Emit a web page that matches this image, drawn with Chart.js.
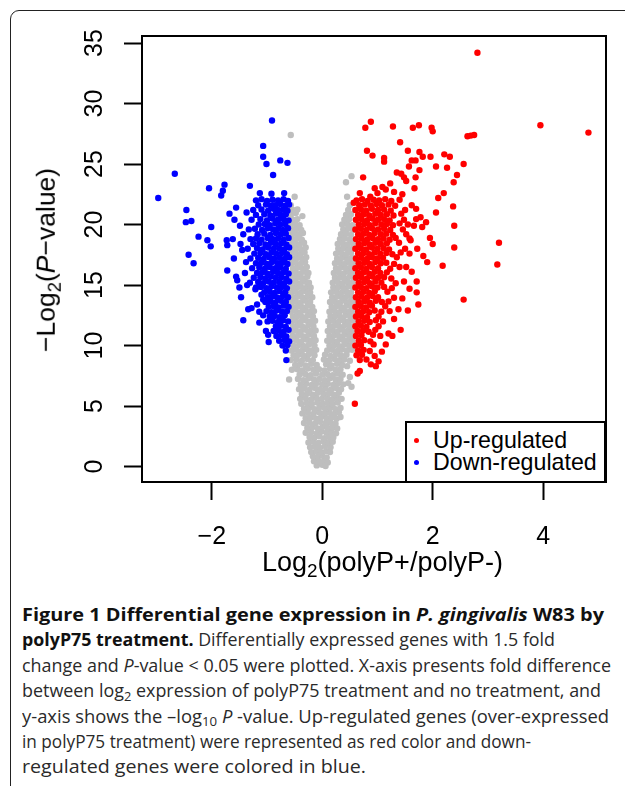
<!DOCTYPE html>
<html><head><meta charset="utf-8">
<script src="https://cdn.jsdelivr.net/npm/chart.js@4/dist/chart.umd.min.js"></script>
<style>
html,body{margin:0;padding:0;background:#fff;width:625px;height:786px;overflow:hidden;}
#frame{position:absolute;left:10px;top:10px;width:720px;height:900px;border:1.5px solid #222;border-radius:9px;box-sizing:border-box;}
#wrap{position:absolute;left:0;top:0;width:625px;height:590px;}
.t{position:absolute;font-family:"Liberation Sans",Arial,sans-serif;color:#000;white-space:nowrap;}
.t sub{font-size:0.7em;vertical-align:baseline;position:relative;top:0.32em;line-height:0;}
#legend{position:absolute;left:405px;top:421px;width:201px;height:62px;border:2px solid #000;background:#fff;box-sizing:border-box;}
.dot{position:absolute;width:5px;height:5px;border-radius:50%;}
#cap{position:absolute;left:22px;top:602px;font-family:"Open Sans",sans-serif;color:#2a2a2a;font-size:17.5px;line-height:25.4px;}
#cap .ln{white-space:nowrap;height:25.4px;}
#cap .ln span{display:inline-block;transform-origin:0 50%;}
#cap b{color:#111;font-weight:700;}
#cap sub{font-size:0.72em;vertical-align:baseline;position:relative;top:0.3em;line-height:0;}
</style></head>
<body>
<div id="frame"></div>
<div id="wrap"><canvas id="c" width="625" height="590"></canvas></div>
<div class="t" id="ytitle" style="font-size:26.5px;line-height:26.5px;left:46px;top:260px;transform:translate(-50%,-50%) rotate(-90deg);">&minus;Log<sub>2</sub>(<i>P</i>&minus;value)</div>
<div class="t" id="xtitle" style="font-size:27px;line-height:27px;left:262px;top:549px;">Log<sub>2</sub>(polyP+/polyP-)</div>
<div id="legend"></div>
<div class="dot" style="left:414px;top:437.5px;background:#f00"></div>
<div class="dot" style="left:414px;top:459.5px;background:#00f"></div>
<div class="t" style="font-size:23.2px;line-height:23px;left:433px;top:428.8px;">Up-regulated</div>
<div class="t" style="font-size:23.2px;line-height:23px;left:433px;top:450.8px;">Down-regulated</div>
<div id="cap">
<div class="ln" data-r="604"><span><b>Figure 1 Differential gene expression in <i>P. gingivalis</i> W83 by</b></span></div>
<div class="ln" data-r="555"><span><b>polyP75 treatment.</b> Differentially expressed genes with 1.5 fold</span></div>
<div class="ln" data-r="611"><span>change and <i>P</i>-value &lt; 0.05 were plotted. X-axis presents fold difference</span></div>
<div class="ln" data-r="601"><span>between log<sub>2</sub> expression of polyP75 treatment and no treatment, and</span></div>
<div class="ln" data-r="609"><span>y-axis shows the &ndash;log<sub>10</sub> <i>P</i> -value. Up-regulated genes (over-expressed</span></div>
<div class="ln" data-r="531"><span>in polyP75 treatment) were represented as red color and down-</span></div>
<div class="ln" data-r="366"><span>regulated genes were colored in blue.</span></div>
</div>
<script>
// ---- data ----
const xTicks = [-2, 0, 2, 4];
const yTicks = [0, 5, 10, 15, 20, 25, 30, 35];
const seriesNames = ['Up-regulated', 'Down-regulated', 'Not significant'];

const upPoints = [
[0.62,22.0],[0.72,22.1],[0.82,21.95],[0.93,22.05],[1.03,22.0],[1.14,22.1],[1.25,21.95],[1.4,22.05],
[0.67,21.6],[0.77,21.65],[0.88,21.55],[0.98,21.7],[1.08,21.6],[1.2,21.65],[1.32,21.55],[1.62,21.6],
[0.6,21.2],[0.7,21.25],[0.8,21.15],[0.9,21.3],[1.01,21.2],[1.12,21.25],[1.24,21.15],[1.5,21.2],
[0.65,20.8],[0.75,20.85],[0.85,20.75],[0.96,20.9],[1.06,20.8],[1.17,20.85],[1.29,20.75],[1.43,20.9],
[0.61,20.4],[0.71,20.45],[0.81,20.35],[0.91,20.5],[1.01,20.4],[1.12,20.45],[1.22,20.35],[1.48,20.4],[1.7,20.45],
[0.66,20.0],[0.76,20.05],[0.86,19.95],[0.96,20.1],[1.07,20.0],[1.17,20.05],[1.28,19.95],[1.4,20.1],[1.55,20.0],
[0.6,19.6],[0.7,19.65],[0.8,19.55],[0.9,19.7],[1.01,19.6],[1.12,19.65],[1.23,19.55],[1.46,19.6],
[0.65,19.2],[0.75,19.25],[0.85,19.15],[0.95,19.3],[1.06,19.2],[1.16,19.25],[1.28,19.15],[1.52,19.2],
[0.61,18.8],[0.71,18.85],[0.81,18.75],[0.91,18.9],[1.01,18.8],[1.11,18.85],[1.22,18.75],[1.33,18.9],[1.58,18.85],
[0.66,18.4],[0.76,18.45],[0.86,18.35],[0.96,18.5],[1.06,18.4],[1.17,18.45],[1.39,18.5],
[0.6,18.0],[0.7,18.05],[0.8,17.95],[0.9,18.1],[1.0,18.0],[1.11,18.05],[1.21,17.95],[1.5,18.0],
[0.65,17.6],[0.75,17.65],[0.85,17.55],[0.95,17.7],[1.05,17.6],[1.16,17.65],[1.27,17.55],[1.42,17.7],
[0.61,17.2],[0.71,17.25],[0.81,17.15],[0.9,17.3],[1.0,17.2],[1.1,17.25],[1.35,17.3],
[0.66,16.8],[0.76,16.85],[0.86,16.75],[0.96,16.9],[1.06,16.8],[1.16,16.85],[1.3,16.75],
[0.6,16.4],[0.7,16.45],[0.8,16.35],[0.9,16.5],[1.01,16.4],[1.23,16.35],[1.4,16.5],
[0.65,16.0],[0.75,16.05],[0.85,15.95],[0.95,16.1],[1.05,16.0],[1.17,16.05],
[0.61,15.6],[0.71,15.65],[0.81,15.55],[0.91,15.7],[1.01,15.6],[1.12,15.65],[1.25,15.55],
[0.66,15.2],[0.76,15.25],[0.86,15.15],[0.96,15.3],[1.07,15.2],[1.33,15.15],
[0.6,14.8],[0.7,14.85],[0.8,14.75],[0.9,14.9],[1.0,14.8],[1.12,14.85],[1.26,14.75],
[0.65,14.4],[0.75,14.45],[0.85,14.35],[0.95,14.5],[1.18,14.45],
[0.61,14.0],[0.71,14.05],[0.81,13.95],[0.91,14.1],[1.01,14.0],[1.3,13.95],
[0.66,13.6],[0.76,13.65],[0.86,13.55],[0.97,13.7],[1.08,13.6],[1.2,13.65],
[0.6,13.2],[0.7,13.25],[0.8,13.15],[0.9,13.3],[1.14,13.25],
[0.65,12.8],[0.75,12.85],[0.85,12.75],[0.95,12.9],[1.07,12.8],[1.22,12.85],
[0.61,12.4],[0.71,12.45],[0.81,12.35],[1.02,12.4],
[0.66,12.0],[0.76,12.05],[0.86,11.95],[0.97,12.1],[1.1,12.0],
[0.6,11.6],[0.7,11.65],[0.8,11.55],[1.02,11.6],
[0.64,11.2],[0.74,11.25],[0.84,11.15],[0.96,11.3],
[0.61,10.8],[0.71,10.85],[0.92,10.9],[1.05,10.8],
[0.66,10.4],[0.76,10.45],[0.87,10.35],
[0.6,10.0],[0.7,10.05],[0.93,10.1],
[0.65,9.6],[0.75,9.65],[0.86,9.55],
[0.62,9.2],[0.72,9.25],[0.95,9.15],
[0.68,8.8],[0.8,8.85],[0.88,8.45],[0.97,8.3],[0.68,7.9],[0.64,7.7],[0.59,5.2],
[2.81,34.2],[3.95,28.2],[4.82,27.6],[2.63,27.3],[2.69,27.35],[2.75,27.4],[2.56,25.0],[3.2,18.5],[3.17,16.7],[2.56,13.8],
[2.39,19.9],[2.39,18.1],[2.37,21.5],[2.18,16.6],[2.06,21.0],[1.95,18.9],[2.0,18.4],[1.9,16.9],[1.81,19.8],[1.71,15.3],[1.71,14.4],[1.74,13.4],
[0.88,28.5],[0.78,28.0],[1.28,28.1],[1.64,28.0],[1.75,28.2],[1.98,28.0],[2.0,27.7],[1.41,26.8],[0.81,26.1],[0.91,25.7],
[1.12,25.5],[1.12,25.2],[1.55,26.1],[1.76,26.0],[1.82,25.6],[1.96,25.6],[1.62,25.3],[1.69,25.3],[1.57,24.8],[2.06,24.8],
[1.76,24.5],[0.74,23.9],[1.35,24.3],[1.43,24.2],[1.48,23.9],[1.52,23.6],[1.69,23.9],[1.23,23.4],[1.09,23.1],[1.0,22.6],
[0.87,22.3],[1.67,23.0],[2.1,22.2],[0.57,21.8],
[2.38,23.5],[2.44,24.1],[2.26,24.7],[2.21,25.8],[2.31,25.6],[2.2,22.6],
[1.7,21.3],[1.78,20.6],[1.66,19.9],[1.88,20.2],[1.6,18.7],[1.72,18.0],[1.58,17.6],[1.83,17.4],[1.52,16.5],[1.62,16.1],
[1.48,15.3],[1.58,14.7],[1.45,13.9],[1.38,13.0],[1.3,12.2],[1.55,12.9],[1.42,11.3],[1.2,11.0],[1.15,10.1],[1.08,9.5],
[1.02,8.7],[1.27,10.8],[0.95,23.0],[1.15,22.9],[1.3,22.7],[1.45,22.5],[0.68,22.6]
];

const downPoints = [
[-1.2,22.0],[-1.1,22.1],[-1.0,21.95],[-0.9,22.05],[-0.8,22.0],[-0.7,22.1],[-0.62,21.95],
[-1.16,21.6],[-1.02,21.65],[-0.93,21.55],[-0.85,21.6],[-0.76,21.7],[-0.67,21.55],[-0.6,21.65],
[-1.25,21.2],[-1.1,21.25],[-0.98,21.15],[-0.88,21.3],[-0.8,21.2],[-0.71,21.25],[-0.63,21.15],
[-1.2,20.8],[-1.05,20.85],[-0.94,20.75],[-0.84,20.9],[-0.75,20.8],[-0.66,20.85],
[-1.28,20.4],[-1.12,20.45],[-1.0,20.35],[-0.9,20.5],[-0.8,20.4],[-0.7,20.45],[-0.61,20.35],
[-1.15,20.0],[-1.04,20.05],[-0.95,19.95],[-0.85,20.1],[-0.76,20.0],[-0.67,20.05],
[-1.33,19.6],[-1.22,19.65],[-1.09,19.55],[-0.99,19.7],[-0.89,19.6],[-0.8,19.65],[-0.71,19.55],[-0.62,19.7],
[-1.17,19.2],[-1.05,19.25],[-0.94,19.15],[-0.84,19.3],[-0.75,19.2],[-0.66,19.25],
[-1.3,18.8],[-1.2,18.85],[-1.1,18.75],[-0.99,18.9],[-0.89,18.8],[-0.8,18.85],[-0.7,18.75],[-0.61,18.9],
[-1.25,18.4],[-1.14,18.45],[-1.03,18.35],[-0.93,18.5],[-0.84,18.4],[-0.74,18.45],[-0.65,18.35],
[-1.35,18.0],[-1.18,18.05],[-1.08,17.95],[-0.98,18.1],[-0.88,18.0],[-0.78,18.05],[-0.69,17.95],[-0.6,18.1],
[-1.23,17.6],[-1.12,17.65],[-1.02,17.55],[-0.92,17.7],[-0.83,17.6],[-0.73,17.65],[-0.64,17.55],
[-1.3,17.2],[-1.16,17.25],[-1.06,17.15],[-0.96,17.3],[-0.87,17.2],[-0.77,17.25],[-0.68,17.15],[-0.6,17.3],
[-1.2,16.8],[-1.1,16.85],[-1.0,16.75],[-0.91,16.9],[-0.81,16.8],[-0.72,16.85],[-0.63,16.75],
[-1.27,16.4],[-1.14,16.45],[-1.04,16.35],[-0.95,16.5],[-0.85,16.4],[-0.76,16.45],[-0.66,16.35],
[-1.18,16.0],[-1.08,16.05],[-0.99,15.95],[-0.89,16.1],[-0.8,16.0],[-0.7,16.05],[-0.61,15.95],
[-1.24,15.6],[-1.12,15.65],[-1.03,15.55],[-0.93,15.7],[-0.84,15.6],[-0.74,15.65],[-0.65,15.55],
[-1.31,15.2],[-1.16,15.25],[-1.07,15.15],[-0.97,15.3],[-0.88,15.2],[-0.78,15.25],[-0.69,15.15],[-0.6,15.3],
[-1.2,14.8],[-1.11,14.85],[-1.01,14.75],[-0.92,14.9],[-0.82,14.8],[-0.73,14.85],[-0.64,14.75],
[-1.05,14.4],[-0.95,14.45],[-0.86,14.35],[-0.77,14.5],[-0.67,14.4],
[-0.99,14.0],[-0.9,14.05],[-0.81,13.95],[-0.71,14.1],[-0.62,14.0],
[-1.03,13.6],[-0.94,13.65],[-0.85,13.55],[-0.75,13.7],[-0.66,13.6],
[-0.97,13.2],[-0.88,13.25],[-0.79,13.15],[-0.7,13.3],[-0.61,13.2],
[-1.14,12.8],[-1.01,12.85],[-0.92,12.75],[-0.83,12.9],[-0.73,12.8],[-0.64,12.85],
[-0.95,12.4],[-0.86,12.45],[-0.77,12.35],[-0.68,12.5],
[-0.99,12.0],[-0.9,12.05],[-0.8,11.95],[-0.71,12.1],[-0.62,12.0],
[-0.84,11.6],[-0.75,11.65],[-0.66,11.55],
[-0.88,11.2],[-0.79,11.25],[-0.7,11.15],[-0.61,11.3],
[-0.83,10.8],[-0.74,10.85],[-0.65,10.75],
[-0.78,10.4],[-0.68,10.45],[-0.6,10.35],
[-0.72,10.0],[-0.63,10.05],[-0.66,9.6],[-0.65,8.8],
[-0.91,28.6],[-1.07,26.5],[-1.07,25.6],[-1.01,25.0],[-0.76,25.3],[-0.63,25.1],[-0.89,24.1],
[-2.67,24.2],[-2.97,22.2],[-2.05,23.0],[-1.77,23.3],[-1.8,22.8],[-1.83,22.4],
[-2.46,21.2],[-2.47,20.2],[-2.37,20.3],[-2.01,19.8],[-1.68,20.9],[-1.56,21.4],[-1.59,20.4],[-1.37,21.0],
[-1.31,23.2],[-1.13,22.6],[-0.92,22.55],[-0.69,22.6],[-1.49,19.9],[-2.24,19.0],[-2.42,17.5],[-2.33,16.8],
[-2.08,18.7],[-2.02,18.2],[-1.73,18.7],[-1.72,18.3],[-1.72,16.2],[-1.56,15.7],[-1.54,15.4],[-1.5,14.8],[-1.47,14.0],
[-1.34,13.0],[-1.28,13.1],[-1.43,12.1],[-1.14,11.9],[-1.07,12.5],[-0.97,10.3],[-1.21,14.65],[-1.1,14.2],[-1.07,13.8],
[-1.18,13.4],[-1.45,17.9],[-1.38,16.9],[-1.4,16.0],[-1.43,19.2],[-1.6,17.2],[-1.62,18.8],[-1.48,18.4],[-1.36,15.0],
[-1.02,11.2],[-0.98,10.9]
];

const grayPoints = [
[-0.1,0.1],[0.0,0.15],[0.06,0.05],
[-0.15,0.45],[-0.05,0.4],[0.04,0.5],[0.1,0.35],
[-0.17,0.85],[-0.08,0.8],[0.0,0.9],[0.08,0.75],
[-0.2,1.2],[-0.11,1.25],[-0.02,1.15],[0.07,1.3],[0.14,1.2],
[-0.22,1.6],[-0.13,1.65],[-0.04,1.55],[0.05,1.7],[0.15,1.6],
[-0.25,2.0],[-0.16,2.05],[-0.07,1.95],[0.02,2.1],[0.11,2.0],[0.19,2.05],
[-0.23,2.45],[-0.14,2.4],[-0.05,2.5],[0.04,2.35],[0.13,2.45],[0.2,2.4],
[-0.3,2.8],[-0.2,2.85],[-0.1,2.75],[-0.01,2.9],[0.08,2.8],[0.17,2.85],[0.25,2.75],
[-0.27,3.2],[-0.18,3.25],[-0.08,3.15],[0.01,3.3],[0.1,3.2],[0.19,3.25],[0.27,3.15],
[-0.33,3.6],[-0.23,3.65],[-0.13,3.55],[-0.04,3.7],[0.06,3.6],[0.15,3.65],[0.24,3.55],
[-0.3,4.0],[-0.21,4.05],[-0.11,3.95],[-0.02,4.1],[0.08,4.0],[0.17,4.05],[0.26,3.95],[0.33,4.1],
[-0.36,4.4],[-0.26,4.45],[-0.16,4.35],[-0.06,4.5],[0.04,4.4],[0.13,4.45],[0.22,4.35],[0.3,4.5],
[-0.33,4.8],[-0.24,4.85],[-0.14,4.75],[-0.05,4.9],[0.05,4.8],[0.14,4.85],[0.24,4.75],[0.33,4.85],
[-0.38,5.2],[-0.28,5.25],[-0.19,5.15],[-0.09,5.3],[0.01,5.2],[0.1,5.25],[0.19,5.15],[0.28,5.3],
[-0.4,5.6],[-0.3,5.65],[-0.2,5.55],[-0.11,5.7],[-0.01,5.6],[0.09,5.65],[0.18,5.55],[0.27,5.7],[0.35,5.6],
[-0.37,6.0],[-0.27,6.05],[-0.17,5.95],[-0.08,6.1],[0.02,6.0],[0.12,6.05],[0.21,5.95],[0.3,6.1],[0.53,6.6],
[-0.42,6.4],[-0.33,6.45],[-0.23,6.35],[-0.13,6.5],[-0.04,6.4],[0.06,6.45],[0.16,6.35],[0.25,6.5],[0.34,6.4],
[-0.39,6.8],[-0.29,6.85],[-0.19,6.75],[-0.1,6.9],[0.0,6.8],[0.1,6.85],[0.2,6.75],[0.29,6.9],[0.38,6.8],[0.47,6.9],
[-0.6,7.2],[-0.44,7.25],[-0.34,7.15],[-0.25,7.3],[-0.15,7.2],[-0.05,7.25],[0.05,7.15],[0.14,7.3],[0.24,7.2],[0.33,7.25],[0.5,7.4],
[-0.41,7.6],[-0.31,7.65],[-0.21,7.55],[-0.11,7.7],[0.0,7.6],[0.09,7.65],[0.19,7.55],[0.28,7.7],[0.37,7.6],
[-0.55,8.0],[-0.45,8.05],[-0.36,7.95],[-0.26,8.1],[-0.16,8.0],[-0.06,8.05],[0.04,7.95],[0.14,8.1],[0.24,8.0],[0.33,8.05],[0.45,8.3],
[-0.49,8.4],[-0.4,8.45],[-0.3,8.35],[-0.2,8.5],[-0.1,8.4],[0.07,8.45],[0.17,8.35],[0.27,8.5],[0.36,8.4],
[-0.57,8.8],[-0.47,8.85],[-0.37,8.75],[-0.27,8.9],[-0.17,8.8],[0.03,8.85],[0.12,8.75],[0.22,8.9],[0.31,8.8],[0.4,8.85],[0.5,8.75],
[-0.52,9.2],[-0.43,9.25],[-0.33,9.15],[-0.24,9.3],[-0.14,9.2],[0.05,9.25],[0.15,9.15],[0.25,9.3],[0.34,9.2],[0.44,9.25],
[-0.56,9.6],[-0.47,9.65],[-0.37,9.55],[-0.28,9.7],[-0.19,9.6],[-0.11,9.65],
[-0.52,10.0],[-0.42,10.05],[-0.33,9.95],[-0.24,10.1],[-0.14,10.0],
[-0.57,10.4],[-0.47,10.45],[-0.38,10.35],[-0.29,10.5],[-0.2,10.4],[-0.12,10.45],
[-0.53,10.8],[-0.43,10.85],[-0.34,10.75],[-0.25,10.9],[-0.15,10.8],
[-0.57,11.2],[-0.48,11.25],[-0.39,11.15],[-0.3,11.3],[-0.21,11.2],[-0.12,11.25],
[-0.53,11.6],[-0.44,11.65],[-0.35,11.55],[-0.25,11.7],[-0.16,11.6],
[-0.57,12.0],[-0.48,12.05],[-0.39,11.95],[-0.3,12.1],[-0.21,12.0],[-0.13,12.05],
[-0.53,12.4],[-0.44,12.45],[-0.35,12.35],[-0.26,12.5],[-0.17,12.4],
[-0.57,12.8],[-0.48,12.85],[-0.39,12.75],[-0.3,12.9],[-0.21,12.8],[-0.15,12.85],
[-0.53,13.2],[-0.44,13.25],[-0.35,13.15],[-0.26,13.3],[-0.18,13.2],
[-0.57,13.6],[-0.48,13.65],[-0.39,13.55],[-0.3,13.7],[-0.22,13.6],
[-0.53,14.0],[-0.44,14.05],[-0.35,13.95],[-0.26,14.1],[-0.18,14.0],
[-0.57,14.4],[-0.48,14.45],[-0.39,14.35],[-0.3,14.5],[-0.22,14.4],
[-0.53,14.8],[-0.44,14.85],[-0.35,14.75],[-0.27,14.9],[-0.21,14.8],
[-0.57,15.2],[-0.48,15.25],[-0.39,15.15],[-0.31,15.3],[-0.24,15.2],
[-0.53,15.6],[-0.44,15.65],[-0.35,15.55],[-0.27,15.7],
[-0.57,16.0],[-0.48,16.05],[-0.39,15.95],[-0.31,16.1],[-0.25,16.0],
[-0.53,16.4],[-0.44,16.45],[-0.35,16.35],[-0.28,16.5],
[-0.57,16.8],[-0.48,16.85],[-0.39,16.75],[-0.31,16.9],
[-0.53,17.2],[-0.44,17.25],[-0.36,17.15],[-0.29,17.3],
[-0.57,17.6],[-0.48,17.65],[-0.4,17.55],[-0.32,17.7],
[-0.53,18.0],[-0.45,18.05],[-0.37,17.95],[-0.3,18.1],
[-0.57,18.4],[-0.49,18.45],[-0.41,18.35],[-0.33,18.5],
[-0.53,18.8],[-0.45,18.85],[-0.37,18.75],
[-0.57,19.2],[-0.49,19.25],[-0.41,19.15],[-0.35,19.3],
[-0.53,19.6],[-0.45,19.65],[-0.38,19.55],
[-0.57,20.0],[-0.49,20.05],[-0.41,19.95],
[-0.53,20.4],[-0.45,20.45],[-0.36,20.7],
[-0.57,20.8],[-0.48,20.95],[-0.53,21.2],[-0.45,21.25],[-0.57,21.6],[-0.5,22.3],[-0.57,27.4],
[0.09,9.6],[0.18,9.65],[0.27,9.55],[0.36,9.7],[0.45,9.6],[0.54,9.65],
[0.13,10.0],[0.22,10.05],[0.31,9.95],[0.4,10.1],[0.49,10.0],[0.57,10.05],
[0.09,10.4],[0.18,10.45],[0.27,10.35],[0.36,10.5],[0.45,10.4],[0.54,10.45],
[0.13,10.8],[0.22,10.85],[0.31,10.75],[0.4,10.9],[0.49,10.8],[0.57,10.85],
[0.1,11.2],[0.19,11.25],[0.28,11.15],[0.37,11.3],[0.46,11.2],[0.55,11.25],
[0.14,11.6],[0.23,11.65],[0.32,11.55],[0.41,11.7],[0.5,11.6],
[0.11,12.0],[0.2,12.05],[0.29,11.95],[0.38,12.1],[0.47,12.0],[0.56,12.05],
[0.15,12.4],[0.24,12.45],[0.33,12.35],[0.42,12.5],[0.51,12.4],
[0.13,12.8],[0.22,12.85],[0.31,12.75],[0.4,12.9],[0.49,12.8],[0.57,12.85],
[0.17,13.2],[0.26,13.25],[0.35,13.15],[0.44,13.3],[0.53,13.2],
[0.14,13.6],[0.23,13.65],[0.32,13.55],[0.41,13.7],[0.5,13.6],[0.57,13.65],
[0.18,14.0],[0.27,14.05],[0.36,13.95],[0.45,14.1],[0.54,14.0],
[0.16,14.4],[0.25,14.45],[0.34,14.35],[0.43,14.5],[0.52,14.4],
[0.2,14.8],[0.29,14.85],[0.38,14.75],[0.47,14.9],[0.56,14.8],
[0.19,15.2],[0.28,15.25],[0.37,15.15],[0.46,15.3],[0.55,15.2],
[0.23,15.6],[0.32,15.65],[0.41,15.55],[0.5,15.7],[0.57,15.6],
[0.21,16.0],[0.3,16.05],[0.39,15.95],[0.48,16.1],[0.56,16.0],
[0.25,16.4],[0.34,16.45],[0.43,16.35],[0.52,16.5],
[0.23,16.8],[0.32,16.85],[0.41,16.75],[0.5,16.9],[0.57,16.8],
[0.27,17.2],[0.36,17.25],[0.45,17.15],[0.54,17.3],
[0.25,17.6],[0.34,17.65],[0.43,17.55],[0.52,17.7],
[0.29,18.0],[0.38,18.05],[0.47,17.95],[0.56,18.1],
[0.28,18.4],[0.37,18.45],[0.46,18.35],[0.55,18.5],
[0.32,18.8],[0.41,18.85],[0.5,18.75],
[0.34,19.2],[0.43,19.25],[0.52,19.15],
[0.38,19.6],[0.47,19.65],[0.56,19.55],
[0.36,20.0],[0.45,20.05],[0.54,19.95],
[0.4,20.4],[0.49,20.45],[0.43,20.8],[0.52,20.85],[0.47,21.2],[0.5,21.6],
[0.45,22.3],[0.43,23.5],[0.53,24.0]
];

// ---- chart ----
const boxPlugin = {
  id: 'plotBox',
  afterDatasetsDraw(chart) {
    const {ctx, chartArea: a} = chart;
    ctx.save();
    ctx.strokeStyle = '#000';
    ctx.lineWidth = 2;
    ctx.strokeRect(a.left, a.top, a.right - a.left, a.bottom - a.top);
    ctx.restore();
  }
};
const toXY = arr => arr.map(p => ({x: p[0], y: p[1]}));
const fmtTick = v => (v < 0 ? '\u2212' + Math.abs(v) : String(v));
const tickFont = {family: 'Liberation Sans', size: 25};

new Chart(document.getElementById('c'), {
  type: 'scatter',
  data: {
    datasets: [
      {label: seriesNames[0], data: toXY(upPoints), backgroundColor: '#ff0000', pointRadius: 3.2, borderWidth: 0, order: 1},
      {label: seriesNames[1], data: toXY(downPoints), backgroundColor: '#0000ff', pointRadius: 3.2, borderWidth: 0, order: 2},
      {label: seriesNames[2], data: toXY(grayPoints), backgroundColor: '#bebebe', pointRadius: 3.2, borderWidth: 0, order: 3}
    ]
  },
  options: {
    responsive: false,
    animation: false,
    events: [],
    layout: {padding: {left: 0, top: 36, right: 19, bottom: 0}},
    plugins: {legend: {display: false}, tooltip: {enabled: false}},
    scales: {
      x: {
        type: 'linear', min: -3.264, max: 5.138,
        afterBuildTicks: s => { s.ticks = xTicks.map(v => ({value: v})); },
        afterFit: s => { s.height = 108; },
        grid: {drawOnChartArea: false, drawTicks: true, tickLength: 18, tickColor: '#000', tickWidth: 2},
        border: {display: true, color: '#000', width: 2},
        ticks: {color: '#000', font: tickFont, padding: 22, maxRotation: 0, autoSkip: false, callback: fmtTick}
      },
      y: {
        type: 'linear', min: -1.27, max: 35.58,
        afterBuildTicks: s => { s.ticks = yTicks.map(v => ({value: v})); },
        afterFit: s => { s.width = 142; },
        grid: {drawOnChartArea: false, drawTicks: true, tickLength: 18, tickColor: '#000', tickWidth: 2},
        border: {display: true, color: '#000', width: 2},
        ticks: {color: '#000', font: tickFont, padding: 15, minRotation: 90, maxRotation: 90, crossAlign: 'center', autoSkip: false, callback: fmtTick}
      }
    }
  },
  plugins: [boxPlugin]
});

// stretch each caption line to the reference line end
document.querySelectorAll('#cap .ln').forEach(ln => {
  const span = ln.firstElementChild;
  const w = span.getBoundingClientRect().width;
  const target = parseFloat(ln.dataset.r) - 22;
  if (w > 0) span.style.transform = 'scaleX(' + (target / w).toFixed(4) + ')';
});
</script>
</body></html>
